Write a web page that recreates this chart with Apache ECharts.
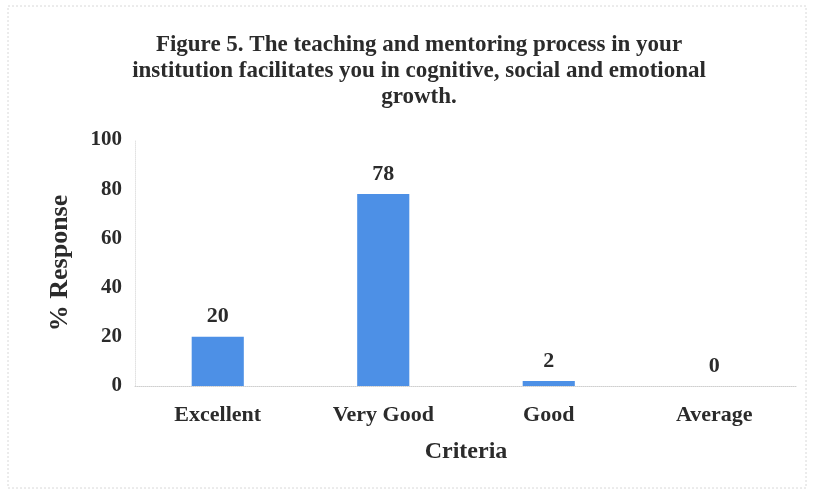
<!DOCTYPE html>
<html>
<head>
<meta charset="utf-8">
<script src="https://cdn.jsdelivr.net/npm/echarts@6/dist/echarts.min.js"></script>
<style>
  html, body { margin: 0; padding: 0; background: #fff; }
  #chart { width: 814px; height: 491px; }
</style>
</head>
<body>
<div id="chart"></div>
<script>
const categories = ['Excellent', 'Very Good', 'Good', 'Average'];
const responses = [20, 78, 2, 0];
const titleLines = [
  'Figure 5. The teaching and mentoring process in your',
  'institution facilitates you in cognitive, social and emotional',
  'growth.',
];

const serif = '"Liberation Serif", "Times New Roman", serif';
const ink = '#2b2b2b';

const chart = echarts.init(document.getElementById('chart'), null, { renderer: 'canvas' });

chart.setOption({
  animation: false,
  graphic: [
    {
      type: 'rect',
      shape: { x: 8, y: 6, width: 798, height: 482 },
      style: { fill: 'none', stroke: '#d8d8d8', lineWidth: 1, lineDash: [2, 2] },
      silent: true,
    },
    {
      type: 'text',
      x: 419,
      y: 32,
      silent: true,
      style: {
        text: titleLines.join('\n'),
        fontFamily: serif,
        fontWeight: 'bold',
        fontSize: 23,
        lineHeight: 26,
        fill: ink,
        align: 'center',
        verticalAlign: 'top',
      },
    },
  ],
  grid: { left: 135, right: 17, top: 140, bottom: 105 },
  xAxis: {
    type: 'category',
    data: categories,
    name: 'Criteria',
    nameLocation: 'middle',
    nameGap: 54,
    nameTextStyle: { fontFamily: serif, fontWeight: 'bold', fontSize: 24, color: ink },
    axisLine: { lineStyle: { color: '#cfcfcf', type: 'dotted', width: 1 } },
    axisTick: { show: false },
    axisLabel: { fontFamily: serif, fontWeight: 'bold', fontSize: 22, color: ink, margin: 18 },
  },
  yAxis: {
    type: 'value',
    min: 0,
    max: 100,
    interval: 20,
    name: '% Response',
    nameLocation: 'middle',
    nameGap: 62,
    nameRotate: 90,
    nameTextStyle: { fontFamily: serif, fontWeight: 'bold', fontSize: 26, color: ink },
    axisLine: { show: true, lineStyle: { color: '#e2e2e2', type: 'dotted', width: 1 } },
    axisTick: { show: false },
    splitLine: { show: false },
    axisLabel: { fontFamily: serif, fontWeight: 'bold', fontSize: 21, color: ink, margin: 13 },
  },
  series: [
    {
      type: 'bar',
      data: responses,
      barWidth: '31.5%',
      itemStyle: { color: '#4d90e6' },
      label: {
        show: true,
        position: 'top',
        distance: 9,
        fontFamily: serif,
        fontWeight: 'bold',
        fontSize: 22,
        color: ink,
      },
    },
  ],
});
</script>
</body>
</html>
